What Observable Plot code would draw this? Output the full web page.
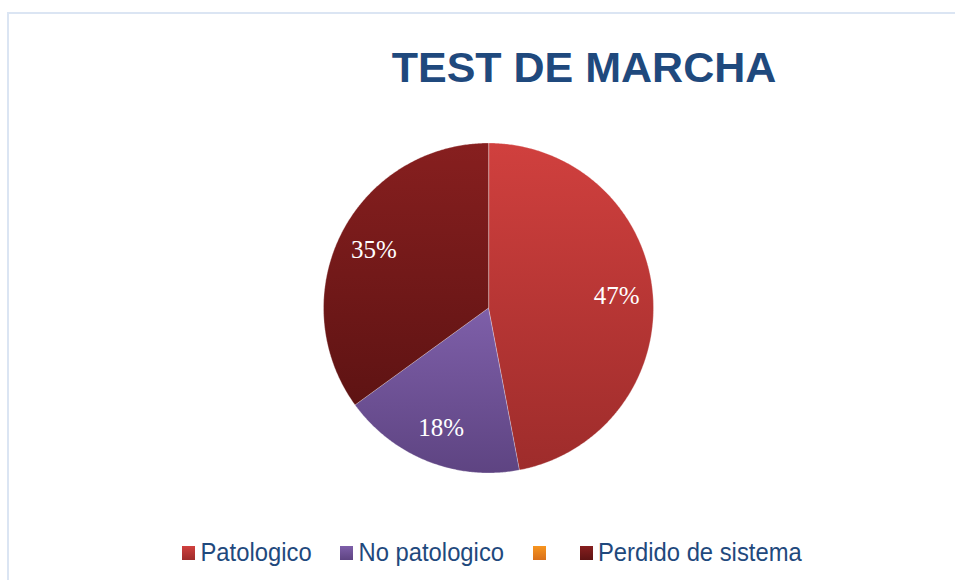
<!DOCTYPE html>
<html><head><meta charset="utf-8">
<script src="https://cdn.jsdelivr.net/npm/d3@7"></script>
<script src="https://cdn.jsdelivr.net/npm/@observablehq/plot@0.6"></script>
<style>
body{margin:0;background:#fff;}
#wrap{position:relative;width:955px;height:580px;overflow:hidden;font-family:"Liberation Sans",Arial,sans-serif;}
#frame{position:absolute;left:7px;top:12px;width:1000px;height:700px;border-left:2px solid #dbe5f3;border-top:2px solid #dbe5f3;}
#chart{position:absolute;left:0;top:0;}
#title{position:absolute;left:334px;width:500px;top:45.5px;text-align:center;font-size:43px;line-height:1;font-weight:bold;color:#1f497d;white-space:nowrap;}
.sw{position:absolute;width:13px;height:14px;}
.lab{position:absolute;font-size:23.8px;line-height:1;color:#1f497d;white-space:nowrap;transform:scaleY(1.07);transform-origin:0 20.15px;}
</style></head>
<body>
<div id="wrap">
  <div id="frame"></div>
  <div id="chart"></div>
  <div id="title">TEST DE MARCHA</div>
  <div id="legend"></div>
</div>
<script>
// ---- data ----
const categories = ["Patologico", "No patologico", "", "Perdido de sistema"];
const percents = [47, 18, 0, 35];
const topColors = ["#d0403e", "#7e5fa9", "#f7951f", "#871f1f"];
const bottomColors = ["#9e2c2b", "#5e4482", "#d9701a", "#5e1313"];

// ---- layout ----
const W = 955, H = 580, cx = 488, cy = 307.5, R = 165, labelR = 0.78 * R;
const total = d3.sum(percents);

// build slices (angles clockwise from 12 o'clock)
let acc = 0;
const slices = categories.map((c, i) => {
  const a0 = acc / total * 2 * Math.PI;
  acc += percents[i];
  const a1 = acc / total * 2 * Math.PI;
  return {c, i, v: percents[i], a0, a1};
});
const polyRows = [];
for (const s of slices) {
  if (s.v <= 0) continue;
  polyRows.push({i: s.i, x: cx, y: cy});
  const n = Math.max(2, Math.ceil((s.a1 - s.a0) / (Math.PI / 360)));
  for (let k = 0; k <= n; k++) {
    const a = s.a0 + (s.a1 - s.a0) * k / n;
    polyRows.push({i: s.i, x: cx + R * Math.sin(a), y: cy - R * Math.cos(a)});
  }
}
const labelRows = slices.filter(s => s.v > 0).map(s => {
  const m = (s.a0 + s.a1) / 2;
  return {x: cx + labelR * Math.sin(m), y: cy - labelR * Math.cos(m), t: s.v + "%"};
});

const marks = slices.filter(s => s.v > 0).map(s =>
  Plot.line(polyRows.filter(r => r.i === s.i), {
    x: "x", y: "y", fill: `url(#grad${s.i})`, stroke: "#ffffff",
    strokeWidth: 0.6, strokeOpacity: 0.5, curve: "linear-closed"
  })
);
marks.push(Plot.text(labelRows, {
  x: "x", y: "y", text: "t", fill: "white", fontSize: 25,
  fontFamily: "Liberation Serif, serif"
}));

const svg = Plot.plot({
  width: W, height: H, margin: 0,
  x: {domain: [0, W], range: [0, W], axis: null},
  y: {domain: [0, H], range: [0, H], axis: null},
  style: {background: "transparent"},
  marks
});
const defs = d3.select(svg).insert("defs", ":first-child");
categories.forEach((c, i) => {
  const g = defs.append("linearGradient").attr("id", "grad" + i)
    .attr("x1", 0).attr("y1", 0).attr("x2", 0).attr("y2", 1);
  g.append("stop").attr("offset", "0%").attr("stop-color", topColors[i]);
  g.append("stop").attr("offset", "100%").attr("stop-color", bottomColors[i]);
});
document.getElementById("chart").appendChild(svg);

// ---- legend ----
const legendSwatchX = [182, 340, 533, 579.5];
const legendTop = 545.5;
const leg = document.getElementById("legend");
categories.forEach((c, i) => {
  const sw = document.createElement("div");
  sw.className = "sw";
  sw.style.left = legendSwatchX[i] + "px";
  sw.style.top = legendTop + "px";
  sw.style.background = `linear-gradient(${topColors[i]}, ${bottomColors[i]})`;
  leg.appendChild(sw);
  if (c) {
    const t = document.createElement("div");
    t.className = "lab";
    t.textContent = c;
    t.style.left = (legendSwatchX[i] + 18.5) + "px";
    t.style.top = "540.9px";
    leg.appendChild(t);
  }
});
</script>
</body></html>
